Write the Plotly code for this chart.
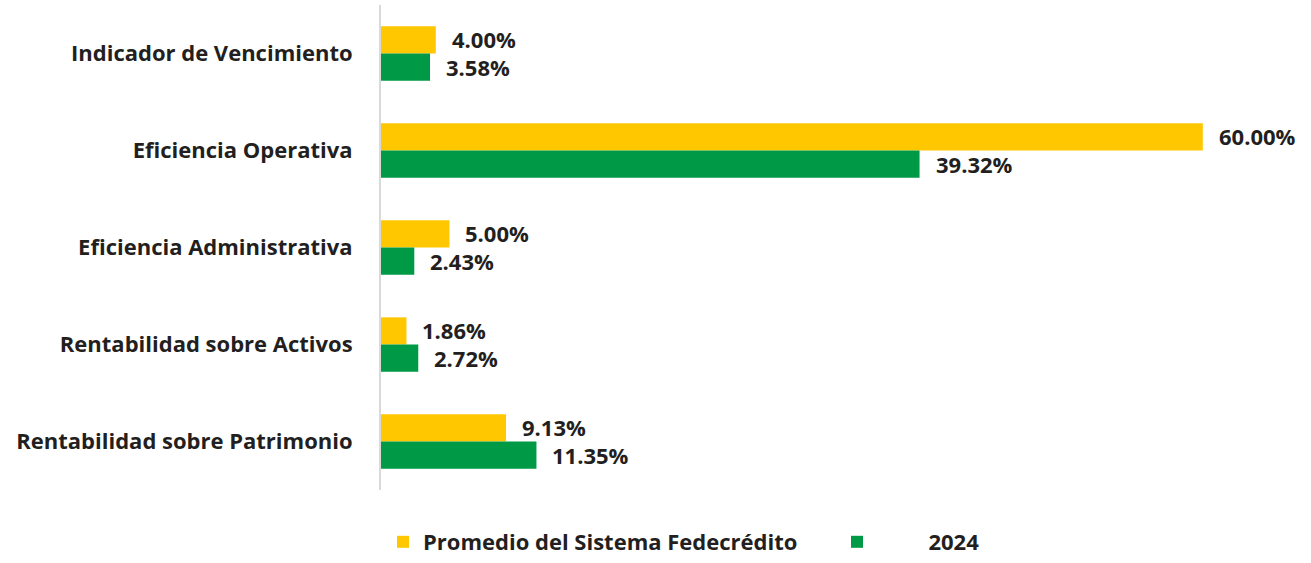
import plotly.graph_objects as go

categories = ["Indicador de Vencimiento", "Eficiencia Operativa", "Eficiencia Administrativa",
              "Rentabilidad sobre Activos", "Rentabilidad sobre Patrimonio"]
promedio = [4.00, 60.00, 5.00, 1.86, 9.13]
anio2024 = [3.58, 39.32, 2.43, 2.72, 11.35]
series_names = ["Promedio del Sistema Fedecrédito", "2024"]

YELLOW = "#FFC700"
GREEN = "#009A46"
TXT = "#231F20"
FONT = "Open Sans"

fig = go.Figure()
fig.add_trace(go.Bar(y=categories, x=promedio, orientation="h",
                     name="<b>" + series_names[0] + "</b>",
                     marker=dict(color=YELLOW, line=dict(width=0))))
fig.add_trace(go.Bar(y=categories, x=anio2024, orientation="h",
                     name="<b>" + "\u00a0" * 9 + series_names[1] + "</b>",
                     marker=dict(color=GREEN, line=dict(width=0))))

annotations = []
for cat, a, b in zip(categories, promedio, anio2024):
    annotations.append(dict(x=a, y=cat, xref="x", yref="y", text=f"<b>{a:.2f}%</b>",
                            showarrow=False, xanchor="left", xshift=14, yshift=14.5,
                            font=dict(family=FONT, size=22, color=TXT)))
    annotations.append(dict(x=b, y=cat, xref="x", yref="y", text=f"<b>{b:.2f}%</b>",
                            showarrow=False, xanchor="left", xshift=14, yshift=-13,
                            font=dict(family=FONT, size=22, color=TXT)))

fig.update_layout(
    width=1311, height=563,
    margin=dict(l=381, r=26, t=5, b=73, autoexpand=False),
    paper_bgcolor="white", plot_bgcolor="white",
    barmode="group", bargap=0.44, bargroupgap=0,
    font=dict(family=FONT, color=TXT),
    annotations=annotations,
    xaxis=dict(range=[0, 66], visible=False),
    yaxis=dict(autorange="reversed", showline=True, linecolor="#D9D9D9", linewidth=2,
               showgrid=False, ticks="", ticklabelstandoff=22, automargin=False,
               tickfont=dict(family=FONT, size=22, color=TXT), tickprefix="<b>", ticksuffix="</b>"),
    legend=dict(orientation="h", xref="container", x=383 / 1311, xanchor="left",
                yref="container", y=0, yanchor="bottom",
                font=dict(family=FONT, size=22, color=TXT), entrywidth=409,
                itemwidth=30, traceorder="normal"),
)

fig.write_html("out.html", config={"displayModeBar": False},
               post_script="document.body.style.margin='0px';")
